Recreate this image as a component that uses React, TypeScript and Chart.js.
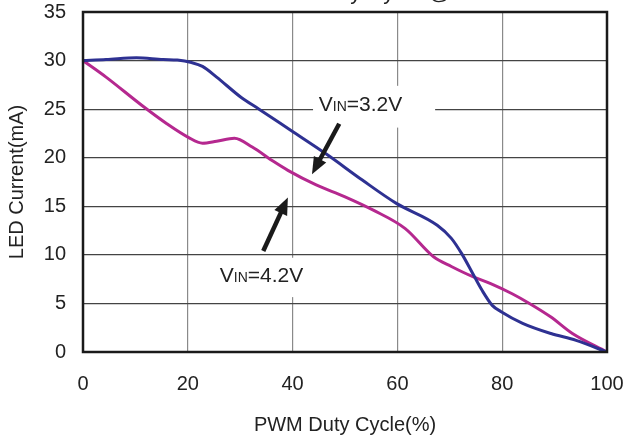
import React, { useEffect, useRef } from "react";
import { Chart, registerables } from "chart.js";

Chart.register(...registerables);

// ---- data ----
const xTickValues = [0, 20, 40, 60, 80, 100];
const yTickValues = [0, 5, 10, 15, 20, 25, 30, 35];

const vin32X = [0, 4.4, 10.2, 15.3, 18, 20.7, 22.8, 25.5, 30.2, 33.6, 39.7, 46.5, 53.3, 59.8, 67.6, 70.3, 72.3, 74.4, 76.1, 78.1, 79.8, 83.9, 89.3, 94.1, 100];
const vin32Y = [30, 30.1, 30.3, 30.1, 30.05, 29.8, 29.4, 28.3, 26.2, 25.0, 22.8, 20.35, 17.7, 15.3, 13.05, 11.7, 10.1, 8.05, 6.4, 4.8, 4.15, 2.95, 1.9, 1.2, 0];

const vin42X = [0, 4.4, 11.2, 16, 20.1, 22.8, 25.5, 28.9, 32.3, 36.4, 39.1, 44.5, 49.9, 55.4, 61.5, 66.9, 70.3, 74.4, 77.8, 81.9, 85.2, 89.3, 93.4, 100];
const vin42Y = [30, 28.3, 25.4, 23.5, 22.1, 21.5, 21.7, 22.0, 21.1, 19.6, 18.7, 17.2, 16.0, 14.6, 12.7, 9.8, 8.8, 7.75, 7.05, 6.0, 5.0, 3.6, 1.9, 0];

const titleText = "Current vs Duty Cycle @ VIN=3.6V";
const xTitle = "PWM Duty Cycle(%)";
const yTitle = "LED Current(mA)";

// annotations (data coordinates)
const label32 = { main: "V", sub: "IN", rest: "=3.2V", x: 45.0, y: 24.8, box: [43.9, 67.2, 27.4, 23.1] };
const label42 = { main: "V", sub: "IN", rest: "=4.2V", x: 26.1, y: 7.2, box: [25.2, 43.7, 9.7, 5.65] };
const arrow32 = { from: [48.9, 23.5], to: [43.7, 18.3] };
const arrow42 = { from: [34.4, 10.4], to: [39.1, 15.9] };

const FONT = '"Liberation Sans", Arial, sans-serif';

function drawArrow(ctx: CanvasRenderingContext2D, x1: number, y1: number, x2: number, y2: number) {
  const ang = Math.atan2(y2 - y1, x2 - x1);
  const headLen = 17;
  const headHalf = 7;
  const bx = x2 - headLen * Math.cos(ang);
  const by = y2 - headLen * Math.sin(ang);
  ctx.save();
  ctx.strokeStyle = "#1a1a1a";
  ctx.fillStyle = "#1a1a1a";
  ctx.lineWidth = 4.5;
  ctx.lineCap = "butt";
  ctx.beginPath();
  ctx.moveTo(x1, y1);
  ctx.lineTo(bx + 2 * Math.cos(ang), by + 2 * Math.sin(ang));
  ctx.stroke();
  ctx.beginPath();
  ctx.moveTo(x2, y2);
  ctx.lineTo(bx + headHalf * Math.sin(ang), by - headHalf * Math.cos(ang));
  ctx.lineTo(bx - headHalf * Math.sin(ang), by + headHalf * Math.cos(ang));
  ctx.closePath();
  ctx.fill();
  ctx.restore();
}

function drawLabel(ctx: CanvasRenderingContext2D, px: number, py: number, l: { main: string; sub: string; rest: string }) {
  ctx.save();
  ctx.fillStyle = "#222";
  ctx.textBaseline = "alphabetic";
  ctx.textAlign = "left";
  ctx.font = `21px ${FONT}`;
  ctx.fillText(l.main, px, py);
  let cx = px + ctx.measureText(l.main).width;
  ctx.font = `14px ${FONT}`;
  ctx.fillText(l.sub, cx, py);
  cx += ctx.measureText(l.sub).width;
  ctx.font = `21px ${FONT}`;
  ctx.fillText(l.rest, cx, py);
  ctx.restore();
}

const annotPlugin = {
  id: "annot",
  beforeDatasetsDraw(chart: any) {
    const ctx = chart.ctx as CanvasRenderingContext2D;
    const xs = chart.scales.x;
    const ys = chart.scales.y;
    ctx.save();
    ctx.fillStyle = "#ffffff";
    for (const l of [label32, label42]) {
      const [x0, x1, y0, y1] = l.box;
      const px0 = xs.getPixelForValue(x0);
      const px1 = xs.getPixelForValue(x1);
      const py0 = ys.getPixelForValue(y0);
      const py1 = ys.getPixelForValue(y1);
      ctx.fillRect(px0, py0, px1 - px0, py1 - py0);
    }
    ctx.restore();
  },
  afterDatasetsDraw(chart: any) {
    const ctx = chart.ctx as CanvasRenderingContext2D;
    const xs = chart.scales.x;
    const ys = chart.scales.y;
    for (const l of [label32, label42]) {
      drawLabel(ctx, xs.getPixelForValue(l.x), ys.getPixelForValue(l.y), l);
    }
    for (const a of [arrow32, arrow42]) {
      drawArrow(
        ctx,
        xs.getPixelForValue(a.from[0]),
        ys.getPixelForValue(a.from[1]),
        xs.getPixelForValue(a.to[0]),
        ys.getPixelForValue(a.to[1])
      );
    }
    const ca = chart.chartArea;
    ctx.save();
    ctx.strokeStyle = "#1a1a1a";
    ctx.lineWidth = 2.5;
    ctx.strokeRect(ca.left, ca.top, ca.right - ca.left, ca.bottom - ca.top);
    ctx.restore();
  },
  afterDraw(chart: any) {
    const ctx = chart.ctx as CanvasRenderingContext2D;
    ctx.save();
    ctx.fillStyle = "#222";
    ctx.font = `22px ${FONT}`;
    ctx.textAlign = "center";
    ctx.textBaseline = "alphabetic";
    ctx.fillText(titleText, 380, -1.5);
    ctx.restore();
  },
};

export default function App() {
  const ref = useRef<HTMLCanvasElement | null>(null);

  useEffect(() => {
    document.body.style.margin = "0";
    const canvas = ref.current;
    if (!canvas) return;
    const chart = new Chart(canvas, {
      type: "line",
      data: {
        datasets: [
          {
            label: "VIN=3.2V",
            data: vin32X.map((x, i) => ({ x, y: vin32Y[i] })),
            borderColor: "#2E3192",
            borderWidth: 3,
            pointRadius: 0,
            cubicInterpolationMode: "monotone",
            fill: false,
          },
          {
            label: "VIN=4.2V",
            data: vin42X.map((x, i) => ({ x, y: vin42Y[i] })),
            borderColor: "#B5288F",
            borderWidth: 3,
            pointRadius: 0,
            cubicInterpolationMode: "monotone",
            fill: false,
          },
        ],
      },
      options: {
        animation: false,
        responsive: false,
        maintainAspectRatio: false,
        layout: { padding: { top: 12, right: 23, left: 0, bottom: 0 } },
        plugins: {
          legend: { display: false },
          tooltip: { enabled: false },
          title: { display: false },
        },
        scales: {
          x: {
            type: "linear",
            min: 0,
            max: 100,
            afterBuildTicks: (s: any) => {
              s.ticks = xTickValues.map((v) => ({ value: v }));
            },
            afterFit: (s: any) => {
              s.height = 94;
              s.paddingLeft = 0;
              s.paddingRight = 0;
            },
            ticks: {
              font: { family: FONT, size: 20 },
              color: "#222",
              padding: 20,
              maxRotation: 0,
            },
            grid: { color: "#8a8a8a", lineWidth: 1.2, drawTicks: false },
            border: { display: false },
            title: {
              display: true,
              text: xTitle,
              font: { family: FONT, size: 20 },
              color: "#222",
              padding: { top: 0, bottom: 9 },
            },
          },
          y: {
            type: "linear",
            min: 0,
            max: 35,
            afterBuildTicks: (s: any) => {
              s.ticks = yTickValues.map((v) => ({ value: v }));
            },
            afterFit: (s: any) => {
              s.width = 83;
              s.paddingTop = 0;
              s.paddingBottom = 0;
            },
            ticks: {
              font: { family: FONT, size: 20 },
              color: "#222",
              padding: 17,
            },
            grid: { color: "#444", lineWidth: 1.2, drawTicks: false },
            border: { display: false },
            title: {
              display: true,
              text: yTitle,
              font: { family: FONT, size: 20 },
              color: "#222",
              padding: { top: 5, bottom: 0 },
            },
          },
        },
      },
      plugins: [annotPlugin],
    } as any);
    return () => chart.destroy();
  }, []);

  return (
    <div style={{ width: 630, height: 446, background: "#fff" }}>
      <canvas ref={ref} width={630} height={446} style={{ display: "block" }} />
    </div>
  );
}
